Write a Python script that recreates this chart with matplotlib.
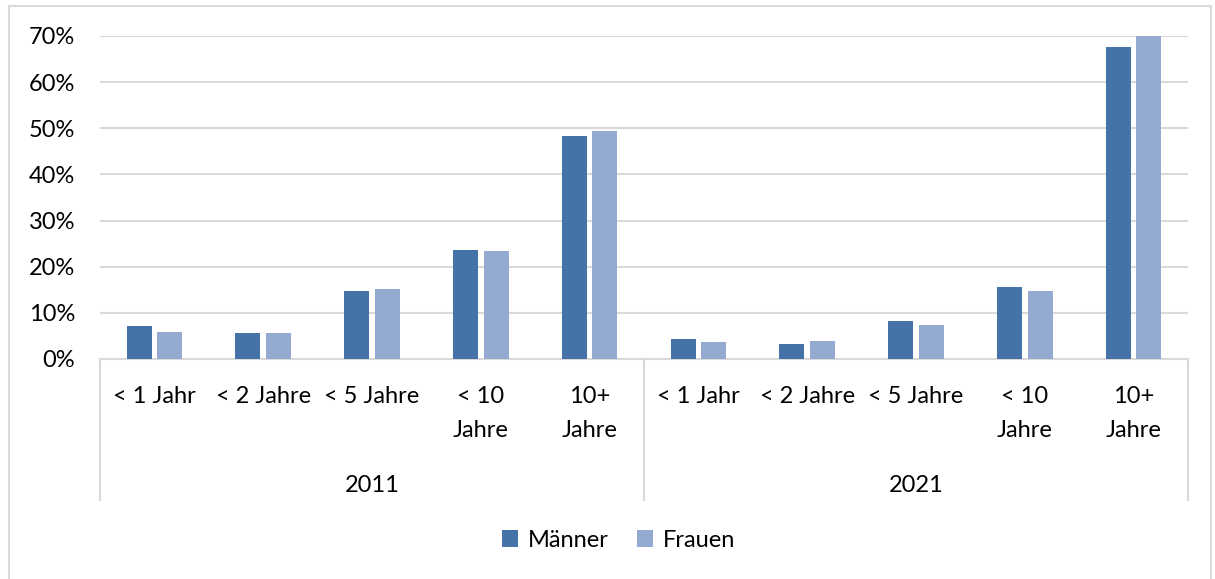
import numpy as np
import matplotlib.pyplot as plt
from matplotlib.patches import Rectangle

plt.rcParams['font.family'] = ['Lato', 'DejaVu Sans']

years = ['2011', '2021']
categories = ['< 1 Jahr', '< 2 Jahre', '< 5 Jahre', '< 10\nJahre', '10+\nJahre']
maenner = [7.2, 5.6, 14.8, 23.6, 48.4, 4.3, 3.3, 8.3, 15.6, 67.7]
frauen = [5.8, 5.7, 15.1, 23.4, 49.4, 3.6, 3.8, 7.3, 14.8, 70.0]

c_m = '#4573A7'
c_f = '#95AAD0'
grid_c = '#D9D9D9'
fs = 17

fig = plt.figure(figsize=(12.15, 5.79), dpi=100)
ax = fig.add_axes([0.0823, 0.38, 0.8955, 0.558])

n = len(maenner)
x = np.arange(n) + 0.5
w = 0.23
ax.bar(x - 0.14, np.array(maenner) / 100, w, color=c_m, label='Männer', zorder=3)
ax.bar(x + 0.14, np.array(frauen) / 100, w, color=c_f, label='Frauen', zorder=3)

ax.set_xlim(0, n)
ax.set_ylim(0, 0.7)
ax.set_yticks(np.arange(0, 0.71, 0.1))
ax.set_yticklabels([f'{int(round(v * 100))}%' for v in np.arange(0, 0.71, 0.1)], fontsize=fs)
ax.tick_params(axis='y', length=0, pad=18)
ax.set_xticks([])
ax.yaxis.grid(True, color=grid_c, linewidth=1.5, zorder=0)
for s in ['top', 'right', 'left']:
    ax.spines[s].set_visible(False)
ax.spines['bottom'].set_color(grid_c)
ax.spines['bottom'].set_linewidth(1.5)

# multi-level category axis
trans = ax.get_xaxis_transform()
for i in range(n):
    ax.text(x[i], -0.085, categories[i % 5], transform=trans, ha='center', va='top',
            fontsize=fs, linespacing=1.75)
for g, yr in enumerate(years):
    ax.text(g * 5 + 2.5, -0.36, yr, transform=trans, ha='center', va='top', fontsize=fs)
for xv in [0, 5, 10]:
    ax.plot([xv, xv], [0, -0.435], transform=trans, color=grid_c, linewidth=1.5, clip_on=False)

fig.legend(loc='center', bbox_to_anchor=(0.509, 0.067), ncol=2, frameon=False, fontsize=fs,
           handlelength=0.7, handleheight=0.7, handletextpad=0.4, columnspacing=1.2)

fig.patches.append(Rectangle((0.007, -0.01), 0.99, 1.0, transform=fig.transFigure,
                             fill=False, edgecolor=grid_c, linewidth=1.5))

fig.savefig('out.png', dpi=100)
